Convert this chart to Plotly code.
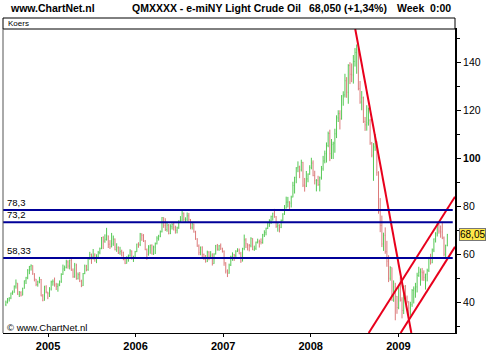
import pandas as pd
import plotly.graph_objects as go

# ---------------- data (weekly bars, week ending Friday) ----------------
first_week = "2004-07-09"
first_open = 39.0

close_2004 = [39.9, 41.3, 41.7, 43.8, 43.9, 46.6, 47.9, 43.2, 43.9, 42.8, 45.6, 48.9, 50.1,
              53.3, 54.9, 55.2, 51.8, 49.6, 47.3, 48.4, 49.4, 42.5, 40.7, 46.3, 44.2, 43.5]
high_2004 = [40.6, 41.7, 42.0, 43.9, 44.8, 46.9, 49.4, 47.7, 44.6, 44.5, 46.0, 49.0, 50.5,
             53.7, 55.0, 55.7, 55.3, 52.0, 49.5, 48.9, 50.5, 49.6, 43.3, 46.8, 47.0, 44.2]
low_2004 = [38.3, 39.4, 40.2, 41.2, 43.0, 44.1, 45.6, 43.0, 42.1, 42.3, 43.6, 45.7, 47.5,
            49.5, 51.6, 53.1, 51.3, 48.6, 46.6, 46.4, 47.8, 42.4, 40.3, 40.6, 43.6, 41.2]

close_2005 = [45.4, 48.4, 48.5, 47.2, 46.5, 47.1, 48.4, 51.5, 53.8, 54.4, 56.7, 55.0, 57.3,
              53.3, 50.5, 55.4, 49.7, 51.4, 48.7, 46.8, 51.9, 55.0, 53.5, 58.5, 59.8, 59.0,
              59.6, 58.1, 58.7, 60.6, 62.3, 66.9, 65.4, 66.1, 67.6, 64.1, 63.0, 64.2, 66.2,
              61.8, 62.6, 60.5, 61.1, 60.6, 57.8, 56.1, 58.7, 59.3, 61.3, 58.1, 58.4, 61.0]
high_2005 = [46.2, 48.9, 49.4, 50.2, 48.0, 47.8, 49.0, 52.0, 55.6, 55.2, 57.6, 57.4, 57.7,
             58.3, 54.0, 56.3, 56.0, 52.3, 52.5, 49.3, 52.1, 55.6, 55.5, 58.7, 60.9, 60.2,
             62.1, 60.3, 59.9, 61.3, 62.7, 67.1, 67.4, 68.2, 70.9, 67.7, 65.8, 68.8, 67.7,
             66.5, 64.5, 63.2, 63.0, 61.8, 61.0, 58.4, 59.0, 59.8, 62.0, 61.5, 59.3, 61.3]
low_2005 = [42.1, 44.8, 46.8, 46.4, 45.0, 44.3, 46.6, 48.0, 51.3, 52.9, 54.0, 53.9, 53.6,
            53.0, 50.1, 50.1, 49.3, 49.4, 48.3, 46.2, 46.7, 51.6, 52.8, 53.0, 57.6, 55.9,
            57.7, 56.8, 56.2, 58.5, 59.9, 62.0, 62.1, 64.7, 65.6, 62.5, 62.1, 62.8, 63.4,
            61.5, 60.9, 60.0, 59.7, 59.0, 57.4, 55.8, 56.0, 56.8, 58.9, 57.7, 56.7, 58.0]

close_2006 = [64.2, 63.9, 68.4, 67.8, 65.4, 61.8, 59.9, 62.9, 63.7, 60.0, 62.9, 64.3, 66.6,
              67.4, 69.3, 75.2, 71.9, 70.2, 72.0, 68.5, 71.4, 72.3, 71.1, 69.9, 70.9, 73.9,
              74.1, 77.0, 74.4, 74.5, 75.9, 74.4, 71.1, 72.5, 69.2, 66.3, 63.3, 60.6, 62.9,
              59.8, 58.6, 56.8, 60.8, 59.1, 59.6, 56.0, 60.0, 63.4, 62.0, 63.4, 62.4, 61.1]
high_2006 = [64.3, 64.9, 68.8, 68.6, 68.3, 65.8, 62.3, 63.7, 63.9, 64.0, 63.5, 64.8, 67.4,
             68.0, 69.8, 75.4, 75.3, 74.9, 73.4, 72.5, 72.4, 72.8, 73.0, 71.8, 71.4, 74.0,
             75.8, 78.4, 77.3, 75.3, 77.3, 77.1, 74.6, 73.1, 72.7, 69.7, 66.6, 64.0, 63.1,
             63.2, 60.2, 59.6, 61.4, 61.2, 61.2, 60.3, 60.3, 63.8, 64.2, 63.8, 64.4, 62.6]
low_2006 = [60.8, 62.6, 63.3, 65.5, 65.0, 61.6, 57.6, 59.3, 60.1, 59.8, 59.6, 60.0, 64.0,
            65.6, 67.0, 69.0, 70.9, 69.6, 69.3, 68.2, 68.3, 70.2, 69.8, 68.5, 68.6, 70.5,
            73.0, 73.8, 73.6, 73.1, 73.6, 73.2, 70.3, 70.2, 68.9, 65.9, 63.0, 59.5, 59.5,
            58.4, 57.5, 56.4, 56.7, 57.4, 57.9, 55.2, 55.9, 59.8, 61.4, 61.3, 61.7, 60.6]

close_2007 = [56.3, 52.9, 52.0, 55.4, 59.0, 59.9, 59.4, 61.1, 61.6, 60.1, 57.1, 62.3, 65.9,
              64.3, 63.6, 63.4, 66.5, 61.9, 62.4, 64.9, 65.2, 65.1, 64.8, 68.0, 68.9, 70.7,
              72.8, 73.9, 75.6, 77.0, 75.5, 71.5, 71.9, 71.1, 74.0, 76.7, 79.1, 81.6, 81.7,
              81.2, 83.7, 88.6, 91.9, 95.9, 96.3, 95.1, 98.2, 88.7, 88.3, 91.3, 93.3, 96.0]
high_2007 = [61.5, 56.6, 53.6, 56.0, 59.3, 60.7, 60.0, 61.6, 62.4, 62.3, 60.9, 62.6, 68.1,
             66.6, 64.4, 64.2, 67.0, 66.6, 63.5, 65.2, 66.4, 66.0, 66.5, 68.4, 69.9, 71.0,
             72.9, 74.5, 76.0, 77.2, 78.8, 75.8, 73.1, 72.4, 74.4, 77.0, 80.4, 83.9, 83.8,
             82.0, 84.3, 90.1, 92.2, 96.2, 98.6, 96.8, 99.3, 98.4, 91.7, 94.6, 93.6, 97.0]
low_2007 = [55.1, 51.9, 50.4, 51.8, 55.0, 57.2, 57.1, 58.6, 60.8, 59.9, 56.3, 56.9, 61.6,
            62.5, 61.5, 61.1, 62.8, 61.6, 61.3, 61.7, 64.4, 62.7, 64.0, 64.3, 67.1, 67.8,
            70.4, 71.3, 72.5, 73.9, 75.1, 70.9, 69.3, 69.0, 70.8, 73.6, 76.3, 79.0, 79.4,
            78.3, 79.4, 83.6, 85.2, 89.5, 94.1, 91.6, 94.4, 87.9, 86.0, 87.9, 89.9, 93.0]

close_2008 = [97.9, 92.7, 90.6, 90.7, 88.9, 91.8, 95.5, 98.8, 101.8, 105.2, 110.2, 101.8,
              105.6, 106.2, 110.1, 116.7, 118.5, 116.3, 125.9, 126.3, 132.2, 127.4, 138.5,
              134.9, 134.6, 140.2, 144.0, 145.1, 128.9, 123.3, 125.1, 115.2, 113.8, 114.6,
              115.5, 106.2, 101.2, 104.6, 106.9, 93.9, 77.7, 71.9, 64.2, 67.8, 61.0, 57.0,
              49.9, 54.4, 40.8, 46.3, 42.4, 37.7]
high_2008 = [100.1, 99.0, 94.7, 91.2, 92.6, 92.3, 96.7, 100.9, 103.1, 106.5, 111.0, 111.8,
             107.9, 106.8, 112.2, 117.8, 119.9, 119.9, 126.2, 127.8, 135.1, 133.7, 139.1,
             139.9, 139.4, 142.9, 145.8, 147.3, 145.9, 132.1, 127.9, 125.6, 117.1, 122.0,
             121.0, 116.3, 106.7, 106.2, 110.0, 107.0, 94.5, 83.3, 76.0, 68.9, 71.1, 65.5,
             59.5, 54.9, 51.7, 49.0, 48.0, 42.5]
low_2008 = [95.3, 92.4, 89.0, 86.1, 88.4, 86.1, 91.0, 94.7, 97.8, 98.1, 104.5, 98.7,
            99.6, 99.6, 102.2, 108.3, 115.0, 111.9, 116.0, 121.8, 125.2, 125.1, 122.6,
            130.8, 131.6, 131.0, 138.1, 135.1, 128.2, 122.6, 119.9, 114.6, 111.3, 111.4,
            113.5, 105.5, 100.3, 90.5, 103.0, 92.6, 76.8, 69.1, 62.9, 61.3, 60.1, 54.7,
            48.3, 48.9, 40.5, 40.1, 32.4, 35.1]

close_2009 = [46.3, 40.8, 36.5, 46.5, 41.7, 40.2, 37.5, 38.9, 44.8, 45.5, 46.3, 51.1, 52.4,
              52.5, 52.2, 50.3, 51.6, 53.2, 58.6, 56.3, 61.7, 66.3, 68.4, 72.0, 69.6, 69.2,
              66.7, 59.9, 63.6, 68.05]
high_2009 = [46.5, 50.5, 42.0, 46.9, 47.1, 42.7, 40.3, 40.1, 45.4, 46.5, 48.0, 52.2, 54.7,
             54.0, 54.2, 53.2, 51.8, 53.9, 58.8, 60.1, 62.3, 66.5, 69.1, 73.2, 72.8, 71.9,
             73.4, 67.3, 63.9, 68.4]
low_2009 = [37.0, 40.2, 33.2, 35.0, 40.2, 39.4, 33.6, 34.3, 38.0, 39.4, 41.8, 44.0, 50.5,
            46.8, 48.9, 48.8, 45.2, 48.6, 52.5, 55.6, 56.2, 60.8, 64.8, 67.3, 68.5, 66.8,
            66.2, 59.0, 58.3, 63.2]

# horizontal support / resistance levels
level_values = [78.3, 73.2, 58.33]
level_labels = ["78,3", "73,2", "58,33"]

# trend lines (date, price) end points
trend_down_x = ["2008-07-05", "2009-02-24"]
trend_down_y = [153.75, 27.1]
trend_up_hi_x = ["2008-08-30", "2009-08-25"]
trend_up_hi_y = [27.1, 83.9]
trend_up_lo_x = ["2009-01-10", "2009-08-25"]
trend_up_lo_y = [27.1, 63.0]

last_price = 68.05
last_label = "68,05"

year_ticks = ["2005-01-01", "2006-01-01", "2007-01-01", "2008-01-01", "2009-01-01"]
year_labels = ["2005", "2006", "2007", "2008", "2009"]
y_ticks = [40, 60, 80, 100, 120, 140]
y_tick_labels = ["40", "60", "80", "<b>100</b>", "120", "140"]

x_range = ["2004-06-27", "2009-08-25"]
y_range = [27.1, 153.75]

# ---------------- build series ----------------
close = close_2004 + close_2005 + close_2006 + close_2007 + close_2008 + close_2009
high = high_2004 + high_2005 + high_2006 + high_2007 + high_2008 + high_2009
low = low_2004 + low_2005 + low_2006 + low_2007 + low_2008 + low_2009
opens = [first_open] + close[:-1]  # each week opens at the previous week's close
high = [max(h, o, c) for h, o, c in zip(high, opens, close)]
low = [min(l, o, c) for l, o, c in zip(low, opens, close)]
dates = pd.date_range(first_week, periods=len(close), freq="W-FRI")

fig = go.Figure()
fig.add_trace(go.Ohlc(
    x=dates, open=opens, high=high, low=low, close=close,
    increasing=dict(line=dict(color="#55c855", width=1)),
    decreasing=dict(line=dict(color="#dc7a7a", width=1)),
    tickwidth=0.25, showlegend=False, hoverinfo="skip",
))

for xs, ys in [(trend_down_x, trend_down_y), (trend_up_hi_x, trend_up_hi_y),
               (trend_up_lo_x, trend_up_lo_y)]:
    fig.add_trace(go.Scatter(x=xs, y=ys, mode="lines",
                             line=dict(color="#e8001c", width=2),
                             showlegend=False, hoverinfo="skip"))

shapes = []
annotations = []
for v, lab in zip(level_values, level_labels):
    shapes.append(dict(type="line", xref="paper", yref="y", x0=0, x1=0.995, y0=v, y1=v,
                       line=dict(color="#000099", width=2), layer="above"))
    annotations.append(dict(xref="paper", yref="y", x=0.004, y=v, text=lab, showarrow=False,
                            xanchor="left", yanchor="bottom", yshift=0,
                            font=dict(family="Liberation Sans, Arial", size=9.5, color="#000")))

PH = 304.0  # plot height in px
# Koers header strip
shapes.append(dict(type="rect", xref="paper", yref="paper", x0=0, x1=1, y0=1, y1=1 + 11 / PH,
                   line=dict(color="#000", width=1), fillcolor="white"))
# left border
shapes.append(dict(type="line", xref="paper", yref="paper", x0=0, x1=0, y0=0, y1=1,
                   line=dict(color="#555", width=1)))
annotations.append(dict(xref="paper", yref="paper", x=0.006, y=1 + 5.5 / PH, text="Koers",
                        showarrow=False, xanchor="left", yanchor="middle",
                        font=dict(family="Liberation Sans, Arial", size=8, color="#000")))

title_font = dict(family="Liberation Sans, Arial", size=10.5, color="#000")
for px, txt in [(8, "<b>www.ChartNet.nl</b>"), (130, "<b>QMXXXX - e-miNY Light Crude Oil</b>"),
                (307, "<b>68,050 (+1,34%)</b>"), (395, "<b>Week  0:00</b>")]:
    annotations.append(dict(xref="paper", yref="paper", x=(px - 3) / 452.0, y=(333 - 8) / PH,
                            text=txt, showarrow=False, xanchor="left", yanchor="middle",
                            font=title_font))

annotations.append(dict(xref="paper", yref="paper", x=0.004, y=6 / PH,
                        text="© www.ChartNet.nl", showarrow=False, xanchor="left",
                        yanchor="middle",
                        font=dict(family="Liberation Sans, Arial", size=9.5, color="#000")))

annotations.append(dict(xref="paper", yref="y", x=1, y=last_price, text=last_label,
                        showarrow=False, xanchor="left", yanchor="middle", xshift=4,
                        bgcolor="#ffe84a", bordercolor="#777", borderwidth=1, borderpad=0,
                        font=dict(family="Liberation Sans, Arial", size=10, color="#000")))

fig.update_layout(
    width=500, height=351,
    margin=dict(l=3, r=45, t=29, b=18, autoexpand=False),
    paper_bgcolor="white", plot_bgcolor="white",
    shapes=shapes, annotations=annotations,
    xaxis=dict(type="date", range=x_range, rangeslider=dict(visible=False),
               automargin=False,
               showgrid=False, zeroline=False,
               showline=True, linecolor="#000", linewidth=1, mirror=True,
               tickvals=year_ticks, ticktext=["<b>%s</b>" % t for t in year_labels],
               ticks="outside", ticklen=3, tickcolor="#000",
               tickfont=dict(family="Liberation Sans, Arial", size=11, color="#000")),
    yaxis=dict(side="right", range=y_range, showgrid=False, zeroline=False,
               automargin=False,
               showline=True, linecolor="#000", linewidth=2,
               tickvals=y_ticks, ticktext=y_tick_labels,
               ticks="outside", ticklen=4, tickcolor="#000",
               minor=dict(tickvals=[30, 50, 70, 90, 110, 130, 150], ticks="outside",
                          ticklen=3, tickcolor="#000"),
               tickfont=dict(family="Liberation Sans, Arial", size=10.5, color="#000")),
)

fig.write_html("out.html")
